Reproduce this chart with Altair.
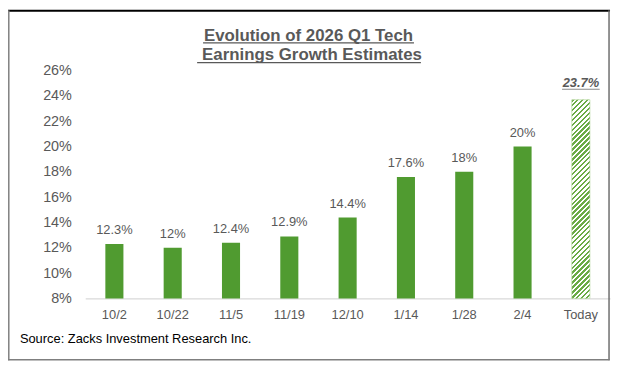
import altair as alt
import pandas as pd

# ---- data ----
categories = ["10/2", "10/22", "11/5", "11/19", "12/10", "1/14", "1/28", "2/4", "Today"]
values = [12.3, 12.0, 12.4, 12.9, 14.4, 17.6, 18.0, 20.0, 23.7]
y_ticks = [8, 10, 12, 14, 16, 18, 20, 22, 24, 26]
title_lines = ["Evolution of 2026 Q1 Tech", "Earnings Growth Estimates"]
source_text = "Source: Zacks Investment Research Inc."

FONT = "Liberation Sans, Arial"
GRAY = "#595959"
GREEN = "#509b30"
STRIPE = "#6aab45"

W_PLOT, H_PLOT = 530, 230
Y_MIN, Y_MAX = 8, 26
P_IN = 0.69

df = pd.DataFrame({"cat": categories, "val": values})
df["lab"] = [f"{v:g}%" for v in values]
hist = df[df.cat != "Today"]
today = df[df.cat == "Today"]

x_scale = alt.Scale(domain=categories, paddingInner=P_IN, paddingOuter=P_IN / 2)
y_scale = alt.Scale(domain=[Y_MIN, Y_MAX], nice=False, zero=False)

x_axis = alt.Axis(title=None, labelAngle=0, ticks=False, tickSize=0,
                  labelPadding=10.5, labelFontSize=13, labelColor=GRAY,
                  labelFont=FONT, domainColor="#d9d9d9", domainWidth=1.5,
                  grid=False, labelOverlap=False)
y_axis = alt.Axis(title=None, values=y_ticks, labelExpr="datum.value + '%'",
                  ticks=False, tickSize=0, domain=False, grid=False,
                  labelPadding=14, labelFontSize=14.5, labelColor=GRAY,
                  labelFont=FONT, labelOverlap=False, labelBound=False,
                  labelFlush=False)
x_enc = alt.X("cat:N", sort=categories, scale=x_scale, axis=x_axis)
y_enc = alt.Y("val:Q", scale=y_scale, axis=y_axis)

# striped (hatched) fill via a hard-stop gradient
bar_w = W_PLOT / len(categories) * (1 - P_IN)
bar_h = (values[-1] - Y_MIN) / (Y_MAX - Y_MIN) * H_PLOT
r = bar_w / bar_h
k = (1 + r) / (1 + r * r)
n_periods = 44
stops = []
for i in range(n_periods):
    t0 = i / n_periods
    tm = (i + 0.5) / n_periods
    t1 = (i + 1) / n_periods
    stops += [alt.GradientStop(offset=t0, color=STRIPE),
              alt.GradientStop(offset=tm, color=STRIPE),
              alt.GradientStop(offset=tm, color="#ffffff"),
              alt.GradientStop(offset=t1, color="#ffffff")]
hatch = alt.Gradient(gradient="linear", stops=stops, x1=0, y1=0, x2=r * k, y2=k)

bars = alt.Chart(hist).mark_bar(color=GREEN, clip=False).encode(
    x=x_enc, y=y_enc, y2=alt.datum(Y_MIN))
bar_today = alt.Chart(today).mark_bar(fill=hatch, stroke="#a9d18e", strokeWidth=0.6).encode(
    x=x_enc, y=y_enc, y2=alt.datum(Y_MIN))

labels = alt.Chart(hist).mark_text(baseline="alphabetic", dy=-10, fontSize=13,
                                   font=FONT, color=GRAY).encode(
    x=x_enc, y=y_enc, text="lab:N")
label_today = alt.Chart(today).mark_text(baseline="alphabetic", dy=-12.4, fontSize=13,
                                         font=FONT, color=GRAY, fontWeight="bold",
                                         fontStyle="italic").encode(
    x=x_enc, y=y_enc, text="lab:N")
underline_today = alt.Chart(today).mark_tick(color=GRAY, thickness=1.2, size=38,
                                             yOffset=-10.6, orient="horizontal").encode(
    x=x_enc, y=y_enc)

# title (with underlines), source, frame
t1 = alt.Chart(pd.DataFrame({"t": [title_lines[0]]})).mark_text(
    fontSize=17, fontWeight="bold", font=FONT, color=GRAY, align="center",
    baseline="alphabetic").encode(text="t:N", x=alt.value(225.5), y=alt.value(-30.3))
t2 = alt.Chart(pd.DataFrame({"t": [title_lines[1]]})).mark_text(
    fontSize=17, fontWeight="bold", font=FONT, color=GRAY, align="center",
    baseline="alphabetic").encode(text="t:N", x=alt.value(229), y=alt.value(-10.3))
one = pd.DataFrame({"a": [0]})
u1 = alt.Chart(one).mark_rule(color=GRAY, strokeWidth=1.3).encode(
    x=alt.value(119), x2=alt.value(332), y=alt.value(-28))
u2 = alt.Chart(one).mark_rule(color=GRAY, strokeWidth=1.3).encode(
    x=alt.value(113), x2=alt.value(339), y=alt.value(-8.2))
src = alt.Chart(pd.DataFrame({"t": [source_text]})).mark_text(
    fontSize=13, font=FONT, color="#000000", align="left", baseline="alphabetic").encode(
    text="t:N", x=alt.value(-66), y=alt.value(275))

frame_top = alt.Chart(one).mark_rule(color="#000000", strokeWidth=2).encode(
    x=alt.value(-78), x2=alt.value(530), y=alt.value(-60.5))
frame_left = alt.Chart(one).mark_rule(color="#7f7f7f", strokeWidth=1.5).encode(
    x=alt.value(-77.2), y=alt.value(-61), y2=alt.value(292.5))
frame_right = alt.Chart(one).mark_rule(color="#6e6e6e", strokeWidth=1.5).encode(
    x=alt.value(529), y=alt.value(-61), y2=alt.value(292.5))
frame_bottom = alt.Chart(one).mark_rule(color="#7f7f7f", strokeWidth=1.5).encode(
    x=alt.value(-78), x2=alt.value(529.7), y=alt.value(292))

chart = alt.layer(
    bars, bar_today, labels, label_today, underline_today,
    t1, t2, u1, u2, src, frame_top, frame_left, frame_right, frame_bottom
).properties(
    width=W_PLOT, height=H_PLOT,
    padding={"left": 78, "top": 61.5, "right": 2, "bottom": 64.5},
    autosize=alt.AutoSizeParams(type="none"),
    background="#ffffff",
).configure_view(stroke=None)

chart.save("out.html", embed_options={"renderer": "svg", "actions": False})
